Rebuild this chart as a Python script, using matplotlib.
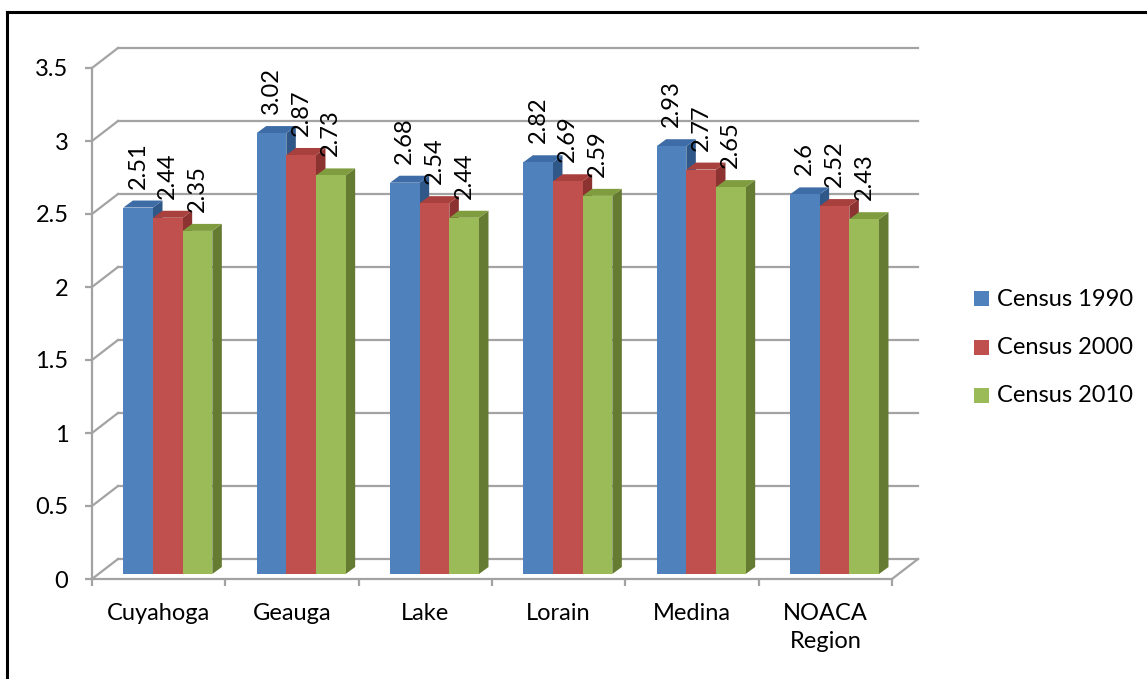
import matplotlib
matplotlib.use("Agg")
import matplotlib.pyplot as plt
from matplotlib.patches import Polygon, Rectangle
from matplotlib.lines import Line2D

# ---- data ----
categories = ["Cuyahoga", "Geauga", "Lake", "Lorain", "Medina", "NOACA\nRegion"]
series_names = ["Census 1990", "Census 2000", "Census 2010"]
census_1990 = [2.51, 3.02, 2.68, 2.82, 2.93, 2.60]
census_2000 = [2.44, 2.87, 2.54, 2.69, 2.77, 2.52]
census_2010 = [2.35, 2.73, 2.44, 2.59, 2.65, 2.43]
value_labels = [
    ["2.51", "3.02", "2.68", "2.82", "2.93", "2.6"],
    ["2.44", "2.87", "2.54", "2.69", "2.77", "2.52"],
    ["2.35", "2.73", "2.44", "2.59", "2.65", "2.43"],
]
y_ticks = [0, 0.5, 1, 1.5, 2, 2.5, 3, 3.5]
y_tick_labels = ["0", "0.5", "1", "1.5", "2", "2.5", "3", "3.5"]
series = [census_1990, census_2000, census_2010]

# ---- styling ----
front_cols = ["#4F81BD", "#C0504D", "#9BBB59"]
top_cols = ["#3D6CA6", "#A8403D", "#7F9C3F"]
side_cols = ["#2F5889", "#8C3230", "#657B32"]
grid_col = "#A3A3A3"
FONT = "Lato"
FS = 17

W, H = 1147, 679
fig = plt.figure(figsize=(W / 100, H / 100), dpi=100)
fig.patch.set_facecolor("white")

# axes: front plane of the plot box
ax_l, ax_r, ax_t, ax_b = 92, 892, 68, 579
ax = fig.add_axes([ax_l / W, (H - ax_b) / H, (ax_r - ax_l) / W, (ax_b - ax_t) / H])
ax.set_xlim(0, len(categories))
ax.set_ylim(0, 3.5)
ax.set_facecolor("none")
for s in ax.spines.values():
    s.set_visible(False)

px_x = len(categories) / (ax_r - ax_l)   # data units per pixel (x)
px_y = 3.5 / (ax_b - ax_t)               # data units per pixel (y)

# depth of the 3-D box
DX = 26 * px_x
DY = 20 * px_y
lw = 1.6

# back wall gridlines and left wall diagonals
for v in y_ticks:
    ax.add_line(Line2D([DX, len(categories) + DX], [v + DY, v + DY],
                       color=grid_col, lw=lw, zorder=1, clip_on=False))
    ax.add_line(Line2D([0, DX], [v, v + DY], color=grid_col, lw=lw,
                       zorder=1, clip_on=False))
# floor edges
ax.add_line(Line2D([0, len(categories)], [0, 0], color=grid_col, lw=lw,
                   zorder=1, clip_on=False))
ax.add_line(Line2D([len(categories), len(categories) + DX], [0, DY],
                   color=grid_col, lw=lw, zorder=1, clip_on=False))
# front value axis
ax.add_line(Line2D([0, 0], [0, 3.5], color=grid_col, lw=lw, zorder=1,
                   clip_on=False))

# ---- 3-D bars ----
bar_w = 0.2225
group_off = 0.235
base = 5 * px_y          # bar front plane sits slightly behind the axis
bdx = 9.5 * px_x         # bar depth
bdy = 7 * px_y
label_gap = 19 * px_y

for ci in range(len(categories)):
    for si, vals in enumerate(series):
        h = vals[ci]
        x0 = ci + group_off + si * bar_w
        z = 3 + ci * 3 + si
        ax.bar(x0, h, width=bar_w, bottom=base, align="edge",
               color=front_cols[si], linewidth=0, zorder=z + 0.2)
        top = Polygon([(x0, h + base), (x0 + bar_w, h + base),
                       (x0 + bar_w + bdx, h + base + bdy), (x0 + bdx, h + base + bdy)],
                      closed=True, facecolor=top_cols[si], edgecolor="none",
                      zorder=z + 0.1, clip_on=False)
        side = Polygon([(x0 + bar_w, base), (x0 + bar_w + bdx, base + bdy),
                        (x0 + bar_w + bdx, h + base + bdy), (x0 + bar_w, h + base)],
                       closed=True, facecolor=side_cols[si], edgecolor="none",
                       zorder=z, clip_on=False)
        ax.add_patch(side)
        ax.add_patch(top)
        ax.text(x0 + bar_w / 2, h + base + label_gap,
                value_labels[si][ci], rotation=90, ha="center", va="bottom",
                fontsize=FS, family=FONT, color="black", zorder=100)

# ---- axis ticks and labels ----
ax.set_yticks(y_ticks)
ax.set_yticklabels(y_tick_labels, family=FONT, fontsize=FS)
ax.tick_params(axis="y", length=5, width=lw, color=grid_col, pad=12,
               direction="out")
ax.set_xticks([i + 0.5 for i in range(len(categories))])
ax.set_xticklabels(categories, family=FONT, fontsize=FS, linespacing=1.45)
ax.tick_params(axis="x", which="major", length=0, pad=17)
ax.set_xticks(range(len(categories) + 1), minor=True)
ax.tick_params(axis="x", which="minor", length=5, width=lw, color=grid_col,
               direction="out")

# ---- legend ----
rows_y = [299, 347, 395]
for si, name in enumerate(series_names):
    yc = rows_y[si]
    fig.add_artist(Rectangle((974 / W, (H - yc - 7.5) / H), 15 / W, 15 / H,
                             transform=fig.transFigure, facecolor=front_cols[si],
                             edgecolor="none"))
    fig.text(997 / W, (H - yc) / H, name, ha="left", va="center",
             fontsize=FS, family=FONT, color="black")

# ---- outer frame (left and top edges) ----
fig.add_artist(Line2D([6.5 / W, 6.5 / W], [(H - 12) / H, 0], color="black",
                      lw=2.2, transform=fig.transFigure))
fig.add_artist(Line2D([6.5 / W, 1.0], [(H - 12) / H, (H - 12) / H],
                      color="black", lw=2.2, transform=fig.transFigure))

fig.savefig("out.png", dpi=100, facecolor="white")
